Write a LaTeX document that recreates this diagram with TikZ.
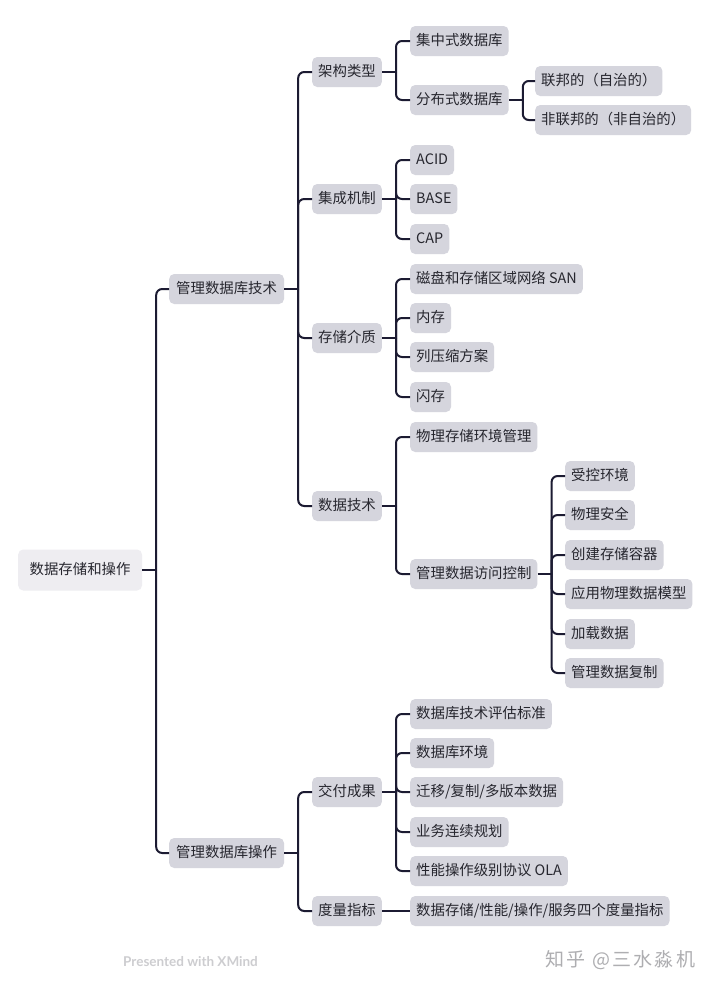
\documentclass[tikz,border=0pt]{standalone}
\usepackage{fontspec}
\newfontfamily\cjk{Noto Sans CJK SC}
\newfontfamily\wm{Lato}
\newfontfamily\cjkwm[LetterSpace=12]{Noto Sans CJK SC}
\definecolor{boxgray}{RGB}{213,213,221}
\definecolor{rootgray}{RGB}{238,237,241}
\definecolor{txt}{RGB}{38,38,46}
\definecolor{linec}{RGB}{28,27,50}
\definecolor{wmgray}{RGB}{205,205,208}
\tikzset{
  box/.style={rectangle, rounded corners=5pt, fill=boxgray, text=txt,
    font=\cjk\fontsize{14.4}{16}\selectfont, inner xsep=6pt, inner ysep=0pt,
    minimum height=30pt, text height=11.5pt, text depth=3pt, anchor=west},
  rootbox/.style={box, fill=rootgray, minimum height=41pt, inner xsep=11.5pt},
  lvl1/.style={box, inner xsep=7pt},
  conn/.style={draw=linec, line width=2pt},
  branch/.style={conn, rounded corners=6pt},
}
\begin{document}
\begin{tikzpicture}[x=1pt,y=-1pt]
\useasboundingbox (0,0) rectangle (720,988);
\fill[white] (0,0) rectangle (720,988);
% nodes
\node[rootbox] (root) at (18,570) {数据存储和操作};
\node[lvl1] (A) at (169,289) {管理数据库技术};
\node[lvl1] (B) at (169,853) {管理数据库操作};
% level 2
\node[box] (A1) at (312,72) {架构类型};
\node[box] (A2) at (312,199) {集成机制};
\node[box] (A3) at (312,338) {存储介质};
\node[box] (A4) at (312,506) {数据技术};
\node[box] (B1) at (312,792) {交付成果};
\node[box] (B2) at (312,911) {度量指标};
% level 3
\node[box] (A11) at (410,41) {集中式数据库};
\node[box] (A12) at (410,100) {分布式数据库};
\node[box] (A121) at (535,81) {联邦的（自治的）};
\node[box] (A122) at (535,120) {非联邦的（非自治的）};
\node[box] (A21) at (410,160) {ACID};
\node[box] (A22) at (410,199) {BASE};
\node[box] (A23) at (410,239) {CAP};
\node[box] (A31) at (410,279) {磁盘和存储区域网络 SAN};
\node[box] (A32) at (410,318) {内存};
\node[box] (A33) at (410,357) {列压缩方案};
\node[box] (A34) at (410,397) {闪存};
\node[box] (A41) at (410,437) {物理存储环境管理};
\node[box] (A42) at (410,574) {管理数据访问控制};
\node[box] (A421) at (565,476) {受控环境};
\node[box] (A422) at (565,515) {物理安全};
\node[box] (A423) at (565,555) {创建存储容器};
\node[box] (A424) at (565,594) {应用物理数据模型};
\node[box] (A425) at (565,634) {加载数据};
\node[box] (A426) at (565,673) {管理数据复制};
\node[box] (B11) at (410,714) {数据库技术评估标准};
\node[box] (B12) at (410,753) {数据库环境};
\node[box] (B13) at (410,792) {迁移/复制/多版本数据};
\node[box] (B14) at (410,832) {业务连续规划};
\node[box] (B15) at (410,871) {性能操作级别协议 OLA};
\node[box] (B21) at (410,911) {数据存储/性能/操作/服务四个度量指标};
% connectors
\draw[conn] (root.east) -- ++(14,0) coordinate (jr);
\foreach \c in {A,B} \draw[branch] (jr) |- (\c.west);
\draw[conn] (A.east) -- ++(14,0) coordinate (jA);
\foreach \c in {A1,A2,A3,A4} \draw[branch] (jA) |- (\c.west);
\draw[conn] (B.east) -- ++(14,0) coordinate (jB);
\foreach \c in {B1,B2} \draw[branch] (jB) |- (\c.west);
\draw[conn] (A1.east) -- ++(14,0) coordinate (jA1);
\foreach \c in {A11,A12} \draw[branch] (jA1) |- (\c.west);
\draw[conn] (A12.east) -- ++(14,0) coordinate (jA12);
\foreach \c in {A121,A122} \draw[branch] (jA12) |- (\c.west);
\draw[conn] (A2.east) -- ++(14,0) coordinate (jA2);
\foreach \c in {A21,A22,A23} \draw[branch] (jA2) |- (\c.west);
\draw[conn] (A3.east) -- ++(14,0) coordinate (jA3);
\foreach \c in {A31,A32,A33,A34} \draw[branch] (jA3) |- (\c.west);
\draw[conn] (A4.east) -- ++(14,0) coordinate (jA4);
\foreach \c in {A41,A42} \draw[branch] (jA4) |- (\c.west);
\draw[conn] (A42.east) -- ++(14,0) coordinate (jA42);
\foreach \c in {A421,A422,A423,A424,A425,A426} \draw[branch] (jA42) |- (\c.west);
\draw[conn] (B1.east) -- ++(14,0) coordinate (jB1);
\foreach \c in {B11,B12,B13,B14,B15} \draw[branch] (jB1) |- (\c.west);
\draw[conn] (B2.east) -- (B21.west);
% watermarks
\node[anchor=west, text=wmgray, font=\wm\bfseries\fontsize{13.5}{15}\selectfont, inner sep=0pt] (wm1) at (123,962) {Presented with XMind};
\node[anchor=west, text=wmgray!85!black, font=\cjkwm\fontsize{19}{21}\selectfont, inner sep=0pt] (wm2) at (545,960) {知乎 @三水淼机};
\end{tikzpicture}
\end{document}
